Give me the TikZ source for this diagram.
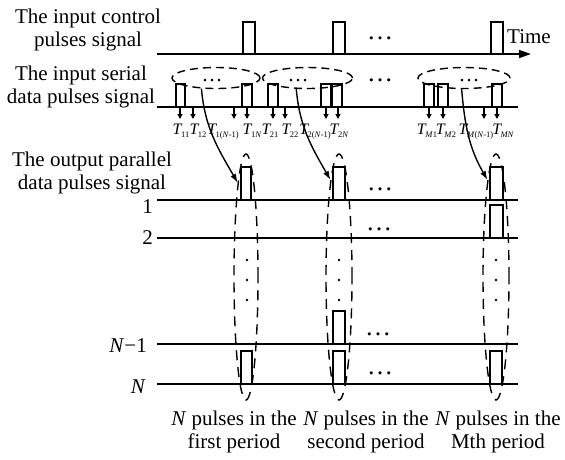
\documentclass[tikz,border=0pt]{standalone}
\usepackage{fontspec}
\setmainfont{Liberation Serif}
\usetikzlibrary{shapes.geometric,arrows.meta}
\newcommand{\Tlab}[1]{\textit{T}\kern-1.5pt\raisebox{-3.5pt}{\fontsize{8.5}{8.5}\selectfont #1}}
\begin{document}
\begin{tikzpicture}[x=1pt,y=-1pt,
  axisline/.style={line width=1.6pt},
  pulseline/.style={line width=1.4pt},
  txt/.style={font=\fontsize{21}{23}\selectfont, inner sep=0pt, align=center},
  lab/.style={font=\fontsize{16}{16}\selectfont, inner sep=0pt, anchor=base},
  rowlab/.style={font=\fontsize{21}{23}\selectfont, inner sep=0pt, anchor=base east},
  bigdots/.style={font=\fontsize{26}{26}\selectfont, inner sep=0pt, anchor=base},
  smalldots/.style={font=\fontsize{21}{21}\selectfont, inner sep=0pt, anchor=base},
  ringh/.style={ellipse, draw, line width=1.4pt, dash pattern=on 8pt off 5pt, inner sep=0pt, minimum height=21pt},
  ringv/.style={ellipse, draw, line width=1.4pt, dash pattern=on 10pt off 7pt, inner sep=0pt, minimum height=246pt},
  conn/.style={line width=1.4pt, -{Latex[length=9pt,width=6pt]}},
  tick/.style={line width=1.2pt, -{Triangle[length=5pt,width=5pt]}}
]
\useasboundingbox (0,0) rectangle (565,459);

% ---- titles
\node[txt] (tctl) at (88,29.6) {The input control\\pulses signal};
\node[txt] (tser) at (81,86.6) {The input serial\\data pulses signal};
\node[txt] (tout) at (92,172.6) {The output parallel\\data pulses signal};

% ---- control pulses signal
\coordinate (c0) at (157,54);
\coordinate (c1) at (531,54);
\draw[axisline,-{Triangle[length=12pt,width=8pt]}] (c0) -- (c1);
\node[txt, anchor=base west] (time) at (507,43) {Time};
\foreach \x in {243,333,491}
  \draw[pulseline] (\x,54) -- (\x,22) -- (\x+12,22) -- (\x+12,54);
\node[bigdots] (cdots) at (380,39) {…};

% ---- serial input
\draw[axisline] (157,107) -- (518,107);
\foreach \a/\b in {176/185,242/252,268/278,321/331,332/342,424/434,438/448,492/502}
  \draw[pulseline] (\a,107) -- (\a,84) -- (\b,84) -- (\b,107);
\foreach \x in {180,193,234,247,273,285,326,338,429,443,484,497}
  \draw[tick] (\x,107) -- (\x,119);
\node[lab] (t11) at (181,134) {\Tlab{11}};
\node[lab] (t12) at (198,134) {\Tlab{12}};
\node[lab] (t1n1) at (223,134) {\Tlab{1(\textit{N}-1)}};
\node[lab] (t1n) at (252,134) {\Tlab{1\textit{N}}};
\node[lab] (t21) at (270,134) {\Tlab{21}};
\node[lab] (t22) at (290,134) {\Tlab{22}};
\node[lab] (t2n1) at (315,134) {\Tlab{2(\textit{N}-1)}};
\node[lab] (t2n) at (339,134) {\Tlab{2\textit{N}}};
\node[lab] (tm1) at (427,134) {\Tlab{\textit{M}1}};
\node[lab] (tm2) at (446,134) {\Tlab{\textit{M}2}};
\node[lab] (tmn1) at (476,134) {\Tlab{\textit{M}(\textit{N}-1)}};
\node[lab] (tmn) at (503,134) {\Tlab{\textit{MN}}};

\node[ringh, minimum width=88pt] (e1) at (216,78) {};
\node[ringh, minimum width=90pt] (e2) at (307.5,78) {};
\node[ringh, minimum width=92pt] (e3) at (464,78) {};
\node[smalldots] (d1) at (212,81) {…};
\node[smalldots] (d2) at (298,81) {…};
\node[smalldots] (d3) at (469,81) {…};
\node[bigdots] (sdots) at (380,81) {…};

% ---- parallel outputs
\foreach \y in {200,238,344,384}
  \draw[axisline] (157,\y) -- (518,\y);
\node[rowlab] (r1) at (153,213) {1};
\node[rowlab] (r2) at (153,244) {2};
\node[rowlab] (rn1) at (147,352) {\textit{N}−1};
\node[rowlab] (rn) at (146,393) {\textit{N}};

\foreach \a/\b/\y in {241/251/200, 241/252/384, 333/345/200, 333/345/344, 333/345/384, 490/503/200, 490/503/238, 490/502/384}
  \draw[pulseline] (\a,\y) -- (\a,\y-33) -- (\b,\y-33) -- (\b,\y);

\node[ringv, minimum width=24pt] (o1) at (246,277) {};
\node[ringv, minimum width=26pt] (o2) at (339,277) {};
\node[ringv, minimum width=26pt] (o3) at (496,277) {};
\foreach \x in {247,339,496}
  \foreach \y in {260,280,300}
    \fill (\x,\y) circle (1.4pt);

\node[bigdots] (od1) at (380,190) {…};
\node[bigdots] (od2) at (379,230) {…};
\node[bigdots] (od3) at (378,335) {…};
\node[bigdots] (od4) at (380,374) {…};

% ---- connectors
\draw[conn] (e1.216) to[out=-85,in=120] (o1.95);
\draw[conn] (e2.224) to[out=-85,in=120] (o2.95);
\draw[conn] (e3.258) to[out=-85,in=120] (o3.95);

% ---- bottom captions
\node[txt] (b1) at (234,431.6) {\textit{N} pulses in the\\first period};
\node[txt] (b2) at (366,431.6) {\textit{N} pulses in the\\second period};
\node[txt] (b3) at (498,431.6) {\textit{N} pulses in the\\Mth period};
\end{tikzpicture}
\end{document}
